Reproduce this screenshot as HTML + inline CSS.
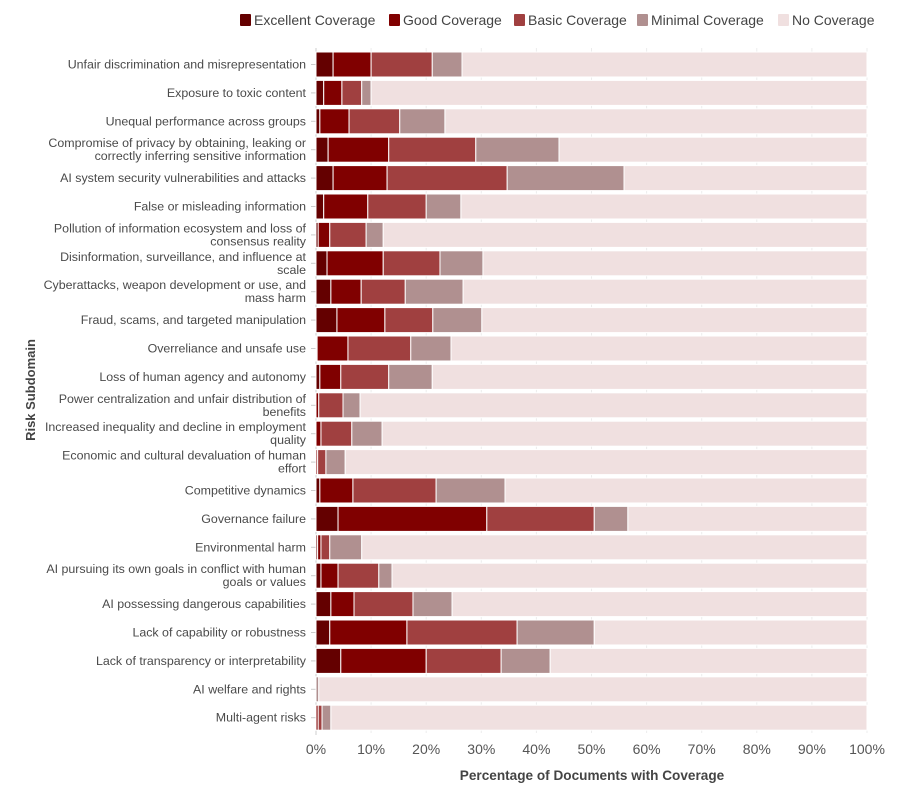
<!DOCTYPE html>
<html><head><meta charset="utf-8"><style>
body{margin:0;background:#fff;font-family:"Liberation Sans",sans-serif}
svg text{font-family:"Liberation Sans",sans-serif}
</style></head><body>
<svg id="chart" width="900" height="804" xmlns="http://www.w3.org/2000/svg"></svg>
<script>
const categories=["Unfair discrimination and misrepresentation","Exposure to toxic content","Unequal performance across groups","Compromise of privacy by obtaining, leaking or|correctly inferring sensitive information","AI system security vulnerabilities and attacks","False or misleading information","Pollution of information ecosystem and loss of|consensus reality","Disinformation, surveillance, and influence at|scale","Cyberattacks, weapon development or use, and|mass harm","Fraud, scams, and targeted manipulation","Overreliance and unsafe use","Loss of human agency and autonomy","Power centralization and unfair distribution of|benefits","Increased inequality and decline in employment|quality","Economic and cultural devaluation of human|effort","Competitive dynamics","Governance failure","Environmental harm","AI pursuing its own goals in conflict with human|goals or values","AI possessing dangerous capabilities","Lack of capability or robustness","Lack of transparency or interpretability","AI welfare and rights","Multi-agent risks"];
const excellent=[3.1,1.4,0.7,2.2,3.1,1.4,0.4,2.0,2.7,3.8,0.2,0.7,0,0,0,0.7,4.0,0.3,0.9,2.7,2.5,4.5,0,0];
const good=[6.9,3.3,5.3,11.0,9.8,8.0,2.1,10.2,5.5,8.7,5.6,3.8,0.5,0.9,0.3,6.0,27.0,0.6,3.1,4.2,14.0,15.5,0,0.4];
const basic=[11.1,3.6,9.2,15.8,21.8,10.6,6.6,10.3,8.0,8.7,11.4,8.7,4.4,5.6,1.5,15.1,19.5,1.6,7.4,10.7,20.0,13.6,0,0.7];
const minimal=[5.4,1.7,8.2,15.1,21.2,6.3,3.1,7.8,10.5,8.9,7.3,7.9,3.1,5.5,3.5,12.5,6.1,5.8,2.4,7.1,14.0,8.9,0.5,1.6];
const xTicks=[0,10,20,30,40,50,60,70,80,90,100];
const seriesNames=["Excellent Coverage","Good Coverage","Basic Coverage","Minimal Coverage","No Coverage"];
const colors=["#640000","#800000","#a04040","#b09090","#f0e0e0"];
const NS="http://www.w3.org/2000/svg",svg=document.getElementById('chart');
const x0=316,x1=867,yTop=52,pitch=28.4,bh=25;
const xs=v=>x0+(x1-x0)*v/100;
function el(t,a,p){const e=document.createElementNS(NS,t);for(const k in a)e.setAttribute(k,a[k]);(p||svg).appendChild(e);return e;}
xTicks.forEach(t=>{const g=el('line',{x1:xs(t),x2:xs(t),y1:yTop-4,y2:733,stroke:'#ececec','stroke-width':1});


const tx=el('text',{x:xs(t),y:754,'text-anchor':'middle','font-size':14,fill:'#555'});tx.textContent=t+'%';

});
const ax=el('line',{x1:x0,x2:x0,y1:yTop-4,y2:735,stroke:'#ccc','stroke-width':1});


const series=[excellent,good,basic,minimal];
categories.forEach((c,i)=>{
 const y=yTop+i*pitch, cy=y+bh/2;
 const tk=el('line',{x1:x0-5,x2:x0,y1:cy,y2:cy,stroke:'#ccc'});
 
 
 const lines=c.split('|');
 const lab=el('text',{x:306,'text-anchor':'end','font-size':12.4,fill:'#4a4a4a'});
 
 
 lines.forEach((l,j)=>{const ts=el('tspan',{x:306,y:cy+4+(j-(lines.length-1)/2)*13},lab);ts.textContent=l;});
 let acc=0;
 const vals=series.map(s=>s[i]);vals.push(100-vals.reduce((a,b)=>a+b,0));
 vals.forEach((v,k)=>{if(v<=0){return;}
  const r=el('rect',{x:xs(acc),y:y,width:xs(acc+v)-xs(acc),height:bh,fill:colors[k],stroke:'#fff','stroke-width':1});
  
  
  acc+=v;});
});
const lx=[240,389,514,637,778];
seriesNames.forEach((n,k)=>{
 const g=el('g',{});
 
 
 el('rect',{x:lx[k],y:14,width:11,height:12,fill:colors[k],rx:1},g);
 const t=el('text',{x:lx[k]+14,y:25,'font-size':14,fill:'#444'},g);t.textContent=n;
});
const xt=el('text',{x:592,y:780,'text-anchor':'middle','font-size':13.6,'font-weight':'bold',fill:'#444'});xt.textContent='Percentage of Documents with Coverage';


const yt=el('text',{x:0,y:0,transform:'translate(35,390) rotate(-90)','text-anchor':'middle','font-size':13,'font-weight':'bold',fill:'#444'});yt.textContent='Risk Subdomain';


</script>
</body></html>
